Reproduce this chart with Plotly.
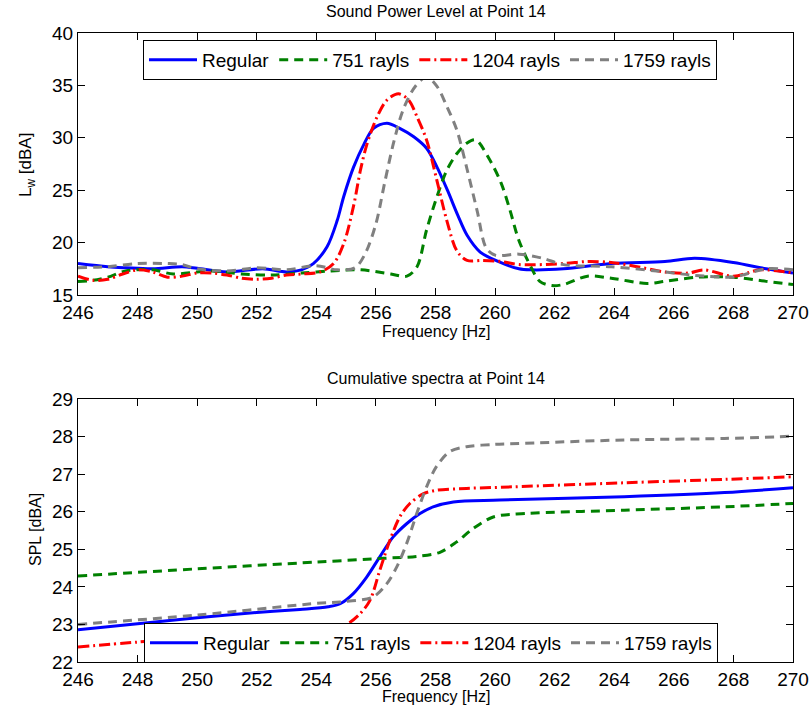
import plotly.graph_objects as go

# ---------------- data: Sound Power Level (top) ----------------
f_reg_lw = [246, 247, 247.6, 248.5, 249.5, 250, 251, 252.2, 253, 253.5, 253.9, 254.36, 254.7, 254.92,
            255.25, 255.6, 255.92, 256.37, 256.8, 257.27, 257.7, 258.05, 258.4, 258.75, 259.06,
            259.5, 260.1, 260.8, 261.2, 262.3, 263.9, 265.7, 266.7, 268.0, 269.1, 270]
lw_reg = [18.0, 17.7, 17.6, 17.5, 17.7, 17.55, 17.2, 17.5, 17.2, 17.4, 18.0, 19.6, 22.1, 24.4,
          27.2, 29.4, 30.9, 31.4, 30.9, 30.1, 29.0, 27.2, 25.0, 22.6, 20.7,
          19.1, 18.2, 17.5, 17.4, 17.5, 18.0, 18.2, 18.5, 18.1, 17.5, 17.1]

f_751_lw = [246, 246.5, 247, 247.6, 248.5, 249.2, 250, 250.5, 251.5, 252.5, 253.5, 254.5, 255.5,
            256.5, 257.04, 257.38, 257.7, 258.05, 258.38, 258.72, 259.06, 259.35, 259.8, 260.2,
            260.5, 260.8, 261.2, 261.5, 261.9, 262.3, 263.1, 263.9, 265.1, 265.7, 266.8, 268, 269.1, 270]
lw_751 = [16.3, 16.4, 16.7, 17.3, 17.4, 17.0, 17.2, 17.3, 17.0, 16.9, 17.1, 17.3, 17.4,
          17.0, 16.8, 17.7, 21.2, 24.4, 26.9, 28.5, 29.5, 29.8, 28.0, 25.7,
          23.1, 20.2, 17.7, 16.3, 15.9, 16.0, 16.8, 16.6, 16.1, 16.3, 16.7, 16.7, 16.3, 16.0]

f_1204_lw = [246, 246.5, 247, 247.5, 248, 248.5, 249, 249.5, 250, 250.5, 251, 251.5, 252, 252.5,
             253, 253.5, 254.13, 254.58, 254.92, 255.25, 255.48, 255.7, 256.04, 256.37, 256.76,
             257.1, 257.38, 257.7, 258.05, 258.38, 258.72, 259.06, 259.6, 260.2, 260.8, 262.3,
             263.1, 263.9, 264.6, 265.7, 266.5, 267, 268, 268.9, 270]
lw_1204 = [16.8, 16.4, 16.5, 17.0, 17.4, 17.2, 16.7, 16.8, 17.1, 17.1, 16.9, 16.6, 16.5, 16.6,
           16.9, 17.0, 17.2, 18.0, 19.9, 23.5, 26.9, 29.4, 32.0, 33.6, 34.2,
           33.6, 32.0, 29.8, 25.9, 22.1, 19.2, 18.3, 18.3, 18.2, 17.9, 18.0,
           18.2, 18.1, 17.8, 17.2, 17.1, 17.4, 16.8, 17.4, 17.1]

f_1759_lw = [246, 247, 248, 249, 249.5, 250, 251, 252, 252.5, 253, 254, 254.7, 255.3, 255.65,
             256.0, 256.3, 256.6, 256.93, 257.32, 257.7, 258.05, 258.38, 258.72, 259.06, 259.4,
             259.7, 260.0, 260.8, 261.6, 262.3, 263.9, 265.7, 266.6, 268, 268.3, 269.1, 270]
lw_1759 = [17.6, 17.7, 18.0, 18.0, 17.9, 17.5, 17.3, 17.6, 17.5, 17.4, 17.8, 17.4, 17.6, 19.0,
           21.8, 25.8, 29.6, 32.8, 34.9, 35.8, 34.9, 33.0, 30.7, 27.0, 23.0,
           19.5, 18.8, 18.9, 18.5, 17.9, 17.7, 17.2, 16.9, 16.7, 16.9, 17.5, 17.4]

# ---------------- data: Cumulative spectra (bottom) ----------------
f_reg_spl = [246, 248, 250, 252, 253.45, 254.4, 254.8, 255.24, 255.69, 256.13, 256.58, 257.03,
             257.48, 257.92, 258.6, 260.16, 264.33, 267.7, 270]
spl_reg = [22.86, 23.02, 23.18, 23.32, 23.40, 23.47, 23.55, 23.82, 24.26, 24.8, 25.33, 25.68,
           25.95, 26.13, 26.26, 26.31, 26.40, 26.51, 26.64]

f_751_spl = [246, 250, 254, 256.25, 257.37, 258.15, 258.7, 259.26, 259.94, 261, 264.33, 267.7, 270]
spl_751 = [24.29, 24.48, 24.66, 24.76, 24.81, 24.92, 25.19, 25.55, 25.86, 25.95, 26.04, 26.13, 26.22]

f_1204_spl = [246, 248, 250, 252, 254, 255.0, 255.46, 255.8, 256.13, 256.47, 256.8, 257.14,
              257.6, 258.03, 259.04, 260.16, 264.33, 267.7, 270]
spl_1204 = [22.4, 22.53, 22.65, 22.75, 22.87, 23.0, 23.28, 23.64, 24.44, 25.24, 25.86, 26.22,
            26.48, 26.57, 26.62, 26.65, 26.77, 26.86, 26.93]

f_1759_spl = [246, 250, 254, 254.8, 255.9, 256.36, 256.7, 257.03, 257.37, 257.7, 258.03, 258.48,
              259.04, 259.94, 260.97, 264.33, 267.7, 270]
spl_1759 = [23.0, 23.25, 23.56, 23.6, 23.73, 24.08, 24.53, 25.15, 25.95, 26.66, 27.2, 27.6,
            27.73, 27.79, 27.82, 27.91, 27.95, 28.01]

series_names = ["Regular", "751 rayls", "1204 rayls", "1759 rayls"]
x_ticks = list(range(246, 271, 2))
y_ticks_top = [15, 20, 25, 30, 35, 40]
y_ticks_bot = [22, 23, 24, 25, 26, 27, 28, 29]

colors = ["#0000FF", "#008000", "#FF0000", "#808080"]
dashes = ["solid", "9px,6px", "11px,4px,2px,4px", "9px,6px"]

W, H = 810, 710
FONT = "Liberation Sans, Arial, Helvetica, sans-serif"

fig = go.Figure()

top = [(f_reg_lw, lw_reg), (f_751_lw, lw_751), (f_1204_lw, lw_1204), (f_1759_lw, lw_1759)]
bot = [(f_reg_spl, spl_reg), (f_751_spl, spl_751), (f_1204_spl, spl_1204), (f_1759_spl, spl_1759)]

for i, (fx, fy) in enumerate(top):
    fig.add_trace(go.Scatter(x=fx, y=fy, mode="lines", name=series_names[i],
                             line=dict(color=colors[i], width=3, dash=dashes[i], shape="spline", smoothing=0.9),
                             xaxis="x", yaxis="y", legend="legend"))
for i, (fx, fy) in enumerate(bot):
    fig.add_trace(go.Scatter(x=fx, y=fy, mode="lines", name=series_names[i],
                             line=dict(color=colors[i], width=3, dash=dashes[i], shape="spline", smoothing=0.9),
                             xaxis="x2", yaxis="y2", legend="legend2"))

x0, x1 = 78 / W, 793 / W
top_dom = [1 - 295 / H, 1 - 33 / H]
bot_dom = [1 - 662 / H, 1 - 399 / H]

axis_common = dict(showline=True, linecolor="black", linewidth=1, mirror="ticks", ticks="inside",
                   ticklen=7, tickcolor="black", showgrid=False, zeroline=False,
                   tickfont=dict(family=FONT, size=19, color="black"), automargin=False)

leg_common = dict(orientation="h", xanchor="left", yanchor="top",
                  bordercolor="black", borderwidth=1, bgcolor="white", itemwidth=48,
                  font=dict(family=FONT, size=19, color="black"), traceorder="normal")

fig.update_layout(
    width=W, height=H, margin=dict(l=0, r=0, t=0, b=0, autoexpand=False),
    paper_bgcolor="white", plot_bgcolor="white",
    font=dict(family=FONT, color="black"),
    xaxis=dict(domain=[x0, x1], anchor="y", range=[246, 270], tickvals=x_ticks, **axis_common),
    yaxis=dict(domain=top_dom, anchor="x", range=[15, 40], tickvals=y_ticks_top, **axis_common),
    xaxis2=dict(domain=[x0, x1], anchor="y2", range=[246, 270], tickvals=x_ticks, **axis_common),
    yaxis2=dict(domain=bot_dom, anchor="x2", range=[22, 29], tickvals=y_ticks_bot, **axis_common),
    legend=dict(x=143 / W, y=1 - 40 / H, **leg_common),
    legend2=dict(x=144 / W, y=1 - 623 / H, **leg_common),
    showlegend=True,
)

xc = (78 + 793) / 2 / W
ann = [
    dict(text="Sound Power Level at Point 14", x=xc, y=1 - 12 / H, size=16, angle=0),
    dict(text="Frequency [Hz]", x=xc, y=1 - 331 / H, size=16, angle=0),
    dict(text="Cumulative spectra at Point 14", x=xc, y=1 - 379 / H, size=16, angle=0),
    dict(text="Frequency [Hz]", x=xc, y=1 - 696 / H, size=16, angle=0),
    dict(text="L<sub>w</sub> [dBA]", x=27 / W, y=1 - 165 / H, size=17, angle=-90),
    dict(text="SPL [dBA]", x=35 / W, y=1 - 530 / H, size=16, angle=-90),
]
for a in ann:
    fig.add_annotation(text=a["text"], x=a["x"], y=a["y"], xref="paper", yref="paper",
                       xanchor="center", yanchor="middle", showarrow=False, textangle=a["angle"],
                       font=dict(family=FONT, size=a["size"], color="black"))

fig.write_html("out.html")
